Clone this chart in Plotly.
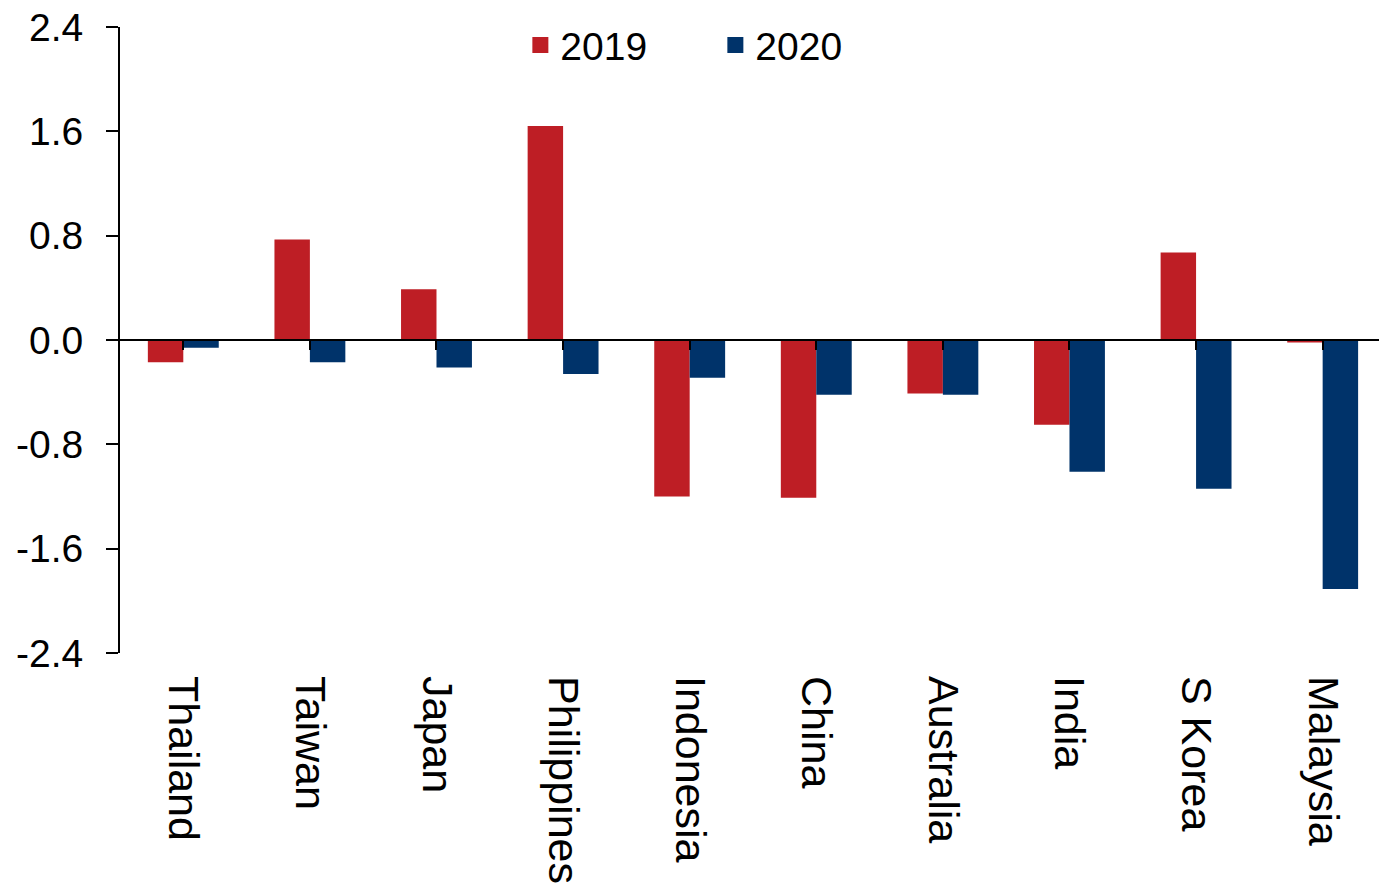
import plotly.graph_objects as go

countries = ["Thailand", "Taiwan", "Japan", "Philippines", "Indonesia",
             "China", "Australia", "India", "S Korea", "Malaysia"]
v2019 = [-0.17, 0.77, 0.39, 1.64, -1.20, -1.21, -0.41, -0.65, 0.67, -0.02]
v2020 = [-0.06, -0.17, -0.21, -0.26, -0.29, -0.42, -0.42, -1.01, -1.14, -1.91]
yticks = [2.4, 1.6, 0.8, 0.0, -0.8, -1.6, -2.4]

RED = "#BE1E25"
BLUE = "#00336A"
FONT = "Liberation Sans, Arial, sans-serif"
XRANGE = [-0.5, 9.445]

fig = go.Figure()
fig.add_trace(go.Bar(x=countries, y=v2019, name="2019", marker_color=RED,
                     marker_line_width=0, showlegend=False))
fig.add_trace(go.Bar(x=countries, y=v2020, name="2020", marker_color=BLUE,
                     marker_line_width=0, showlegend=False))
# legend-only entries
fig.add_trace(go.Scatter(x=[None], y=[None], mode="markers", name="2019",
                         marker=dict(symbol="square", size=18, color=RED)))
fig.add_trace(go.Scatter(x=[None], y=[None], mode="markers", name="2020",
                         marker=dict(symbol="square", size=18, color=BLUE)))
# axis drawn at zero with ticks at category centres
fig.add_trace(go.Scatter(x=countries, y=[None] * len(countries), xaxis="x2",
                         showlegend=False, hoverinfo="skip"))

fig.update_layout(
    width=1379, height=883,
    margin=dict(l=120, r=0, t=27, b=230),
    plot_bgcolor="white", paper_bgcolor="white",
    font=dict(family=FONT, size=39, color="black"),
    barmode="group", bargap=0.44, bargroupgap=0,
    showlegend=True,
    legend=dict(orientation="h", x=0.318, xanchor="left", y=1.022, yanchor="top",
                font=dict(size=39),
                entrywidth=150, entrywidthmode="pixels",
                bgcolor="rgba(0,0,0,0)", traceorder="normal"),
    xaxis=dict(type="category", categoryorder="array", categoryarray=countries,
               range=XRANGE,
               showline=False, ticks="", tickangle=90, showgrid=False,
               zeroline=False, ticklabelstandoff=22,
               tickfont=dict(size=43)),
    xaxis2=dict(type="category", categoryorder="array", categoryarray=countries,
                overlaying="x", anchor="free", position=0.5, side="bottom",
                range=XRANGE,
                showline=True, linecolor="black", linewidth=2,
                ticks="outside", ticklen=9, tickwidth=2, tickcolor="black",
                showticklabels=False, showgrid=False, zeroline=False),
    yaxis=dict(range=[-2.4, 2.4], tickvals=yticks,
               ticktext=[f"{v:.1f}" for v in yticks],
               showline=True, linecolor="black", linewidth=2,
               ticks="outside", ticklen=12, tickwidth=2, tickcolor="black",
               showgrid=False, zeroline=False, ticklabelstandoff=15,
               tickfont=dict(size=39)),
)

fig.write_html("out.html")
